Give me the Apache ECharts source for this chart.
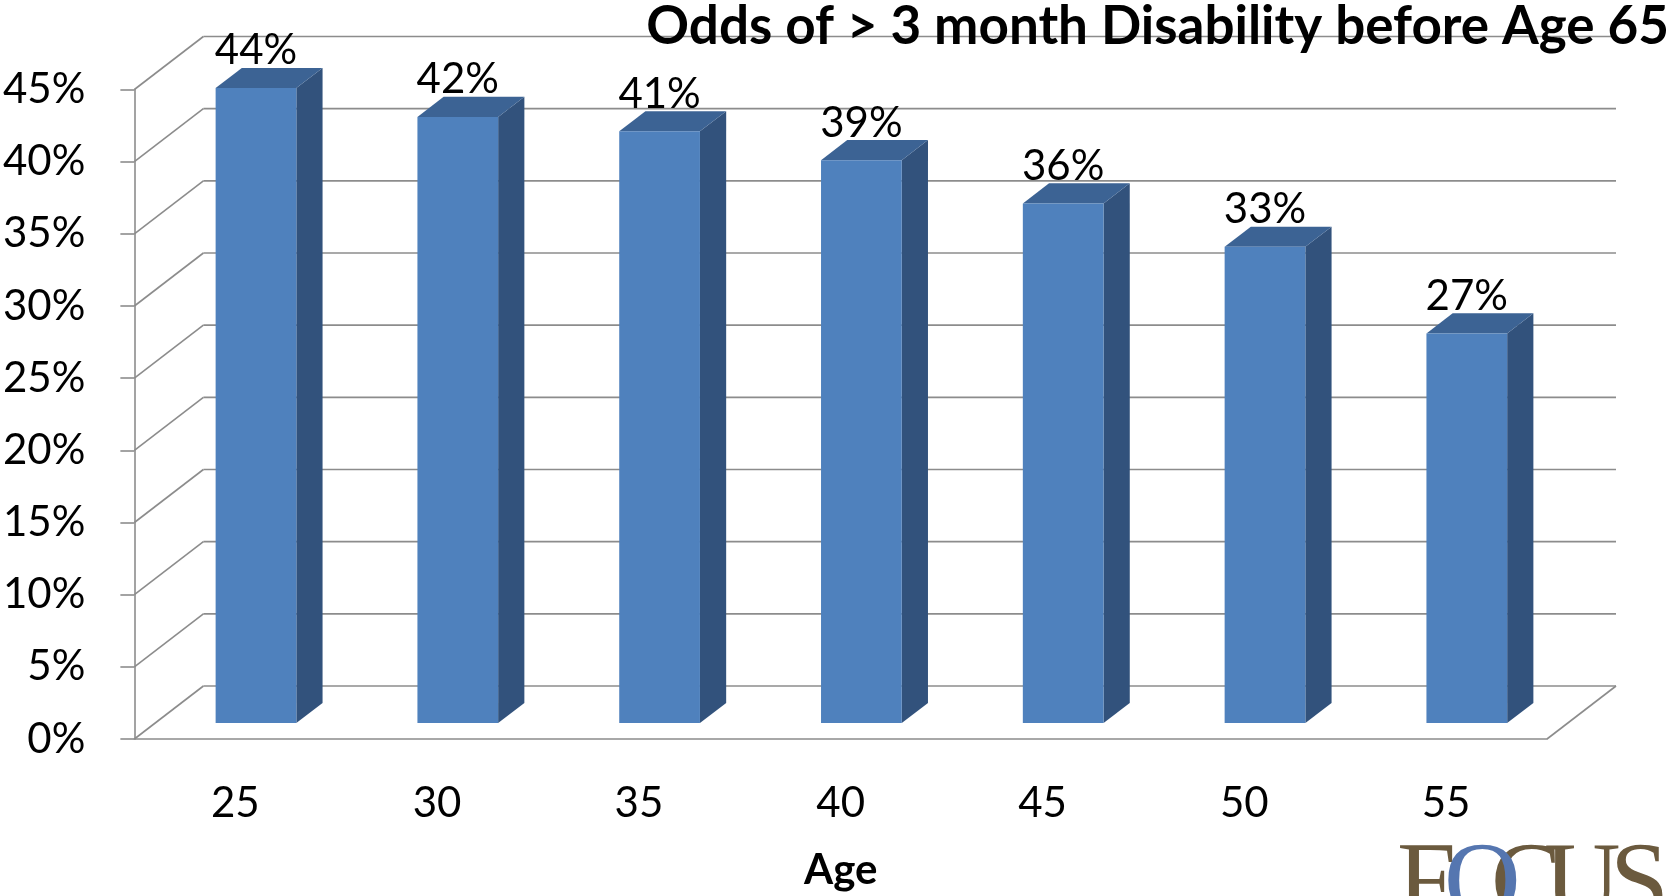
<!DOCTYPE html>
<html>
<head>
<meta charset="utf-8">
<script src="https://cdn.jsdelivr.net/npm/echarts@6/dist/echarts.min.js"></script>
<style>
  html, body { margin: 0; padding: 0; background: #ffffff; }
  #chart { width: 1666px; height: 896px; }
</style>
</head>
<body>
<div id="chart"></div>
<script>
// ---- data ----
const categories = ['25', '30', '35', '40', '45', '50', '55'];
const values = [44, 42, 41, 39, 36, 33, 27];
const yTicks = [0, 5, 10, 15, 20, 25, 30, 35, 40, 45];
const titleText = 'Odds of > 3 month Disability before Age 65';
const xAxisName = 'Age';
const logoLetters = ['F', 'O', 'C', 'U', 'S'];

// ---- style ----
const DEPTH = [69, -53];          // oblique depth vector of the wall box (px)
const BAR_FRONT = 0.30;           // bar front plane, fraction of depth
const BAR_BACK = 0.68;            // bar back plane, fraction of depth
const GRID_COLOR = '#8c8c8c';
const FONT = 'Lato';
const LOGO_X = [1397, 1444, 1491, 1544, 1610];
const LOGO_COLORS = ['#6b5a3e', '#5576b0', '#6b5a3e', '#6b5a3e', '#6b5a3e'];

function renderWall(params, api) {
  const v = api.value(1);
  const cs = params.coordSys;
  const y = api.coord([0, v])[1];
  const x0 = cs.x, x1 = cs.x + cs.width;
  const st = { stroke: GRID_COLOR, lineWidth: 1.6, fill: null };
  const children = [
    { type: 'line', shape: { x1: x0, y1: y, x2: x0 + DEPTH[0], y2: y + DEPTH[1] }, style: st },
    { type: 'line', shape: { x1: x0 + DEPTH[0], y1: y + DEPTH[1], x2: x1 + DEPTH[0], y2: y + DEPTH[1] }, style: st }
  ];
  if (v === 0) {
    children.push({ type: 'line', shape: { x1: x1, y1: y, x2: x1 + DEPTH[0], y2: y + DEPTH[1] }, style: st });
  }
  return { type: 'group', children: children, silent: true };
}

function renderBar(params, api) {
  const i = api.value(0), v = api.value(1);
  const top = api.coord([i, v]);
  const base = api.coord([i, 0]);
  const band = api.size([1, 0])[0];
  const w = band * 0.4;
  const fx = top[0] - w / 2 + DEPTH[0] * BAR_FRONT;
  const fy0 = top[1] + DEPTH[1] * BAR_FRONT;
  const fy1 = base[1] + DEPTH[1] * BAR_FRONT;
  const sx = DEPTH[0] * (BAR_BACK - BAR_FRONT);
  const sy = DEPTH[1] * (BAR_BACK - BAR_FRONT);
  return {
    type: 'group',
    children: [
      { type: 'polygon', shape: { points: [[fx + w, fy0], [fx + w + sx, fy0 + sy], [fx + w + sx, fy1 + sy], [fx + w, fy1]] },
        style: { fill: '#32527c' } },
      { type: 'polygon', shape: { points: [[fx, fy0], [fx + sx, fy0 + sy], [fx + w + sx, fy0 + sy], [fx + w, fy0]] },
        style: { fill: '#3c6394' } },
      { type: 'rect', shape: { x: fx, y: fy0, width: w, height: fy1 - fy0 },
        style: { fill: '#4f81bd' } },
      { type: 'text', style: { x: fx + w / 2, y: fy0 + sy + 4, text: v + '%', align: 'center', verticalAlign: 'bottom',
        fill: '#000', font: '42px ' + FONT } }
    ]
  };
}

const chart = echarts.init(document.getElementById('chart'), null, { renderer: 'canvas' });
chart.setOption({
  backgroundColor: '#ffffff',
  animation: false,
  title: {
    text: titleText,
    right: -8,
    top: -5,
    textStyle: { fontFamily: FONT, fontWeight: 'bold', fontSize: 53, color: '#000' },
    z: 10
  },
  grid: { left: 134, right: 119, top: 89.5, bottom: 154, containLabel: false },
  xAxis: {
    type: 'category',
    data: categories,
    boundaryGap: true,
    axisLine: { lineStyle: { color: GRID_COLOR, width: 1.6 } },
    axisTick: { length: 14, lineStyle: { color: GRID_COLOR, width: 1.6 } },
    axisLabel: { margin: 43, fontFamily: FONT, fontSize: 42, color: '#000' },
    name: xAxisName,
    nameLocation: 'middle',
    nameGap: 110,
    nameTextStyle: { fontFamily: FONT, fontWeight: 'bold', fontSize: 42, color: '#000' }
  },
  yAxis: {
    type: 'value',
    min: 0, max: 45, interval: 5,
    axisLine: { show: true, lineStyle: { color: GRID_COLOR, width: 1.6 } },
    axisTick: { show: true, length: 14, lineStyle: { color: GRID_COLOR, width: 1.6 } },
    splitLine: { show: false },
    axisLabel: { margin: 49, formatter: '{value}%', fontFamily: FONT, fontSize: 42, color: '#000' }
  },
  series: [
    {
      type: 'custom',
      name: 'walls',
      silent: true,
      z: 1,
      data: yTicks.map(v => [0, v]),
      encode: { x: 0, y: 1 },
      renderItem: renderWall
    },
    {
      type: 'custom',
      name: 'Odds',
      z: 3,
      data: values.map((v, i) => [i, v]),
      encode: { x: 0, y: 1 },
      renderItem: renderBar
    }
  ],
  graphic: logoLetters.map((ch, k) => ({
    type: 'text',
    left: LOGO_X[k],
    top: 834,
    z: 20 + (k === 1 ? 1 : 0),
    style: {
      text: ch,
      font: '106px "Liberation Serif"',
      fill: LOGO_COLORS[k]
    }
  }))
});
</script>
</body>
</html>
